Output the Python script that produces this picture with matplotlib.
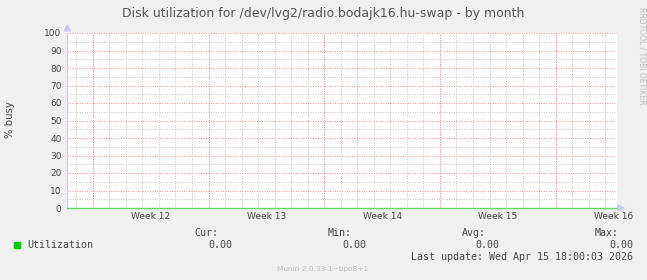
import matplotlib
matplotlib.use("Agg")
import matplotlib.pyplot as plt

# data (x in days from the left edge of the month view)
week_labels = ["Week 12", "Week 13", "Week 14", "Week 15", "Week 16"]
week_starts = [1.56, 8.56, 15.56, 22.56, 29.56]
util_days = [0.0, 33.27]
util_values = [0.0, 0.0]
y_ticks = [0, 10, 20, 30, 40, 50, 60, 70, 80, 90, 100]
legend_stats = [("Cur:", "0.00"), ("Min:", "0.00"), ("Avg:", "0.00"), ("Max:", "0.00")]
last_update = "Last update: Wed Apr 15 18:00:03 2026"

W, H = 647, 280
bg = "#f0f0f0"
fig = plt.figure(figsize=(W / 100, H / 100), dpi=100, facecolor=bg)

# plot area in pixels
x0, x1, y0, y1 = 67, 617, 33, 208
ax = fig.add_axes([x0 / W, 1 - y1 / H, (x1 - x0) / W, (y1 - y0) / H])
ax.set_facecolor("white")
ax.set_xlim(0, util_days[-1])
ax.set_ylim(0, 100)

# grid: minor every day / 5 %, major at week starts / 10 %
minor_x = [week_starts[0] - 1 + i for i in range(34) if week_starts[0] - 1 + i < util_days[-1]]
for d in minor_x:
    ax.axvline(d, color="#c4c4c4", lw=0.7, ls=(0, (1, 1.5)), zorder=1)
for v in range(5, 100, 10):
    ax.axhline(v, color="#c4c4c4", lw=0.7, ls=(0, (1, 1.5)), zorder=1)
for d in week_starts:
    ax.axvline(d, color="#f09090", lw=0.7, ls=(0, (1, 1.5)), zorder=2)
for v in y_ticks[1:]:
    ax.axhline(v, color="#f09090", lw=0.7, ls=(0, (1, 1.5)), zorder=2)

ax.plot(util_days, util_values, color="#00cc00", lw=1.0, alpha=0.6, zorder=3, clip_on=False)

for s in ["top", "right", "bottom"]:
    ax.spines[s].set_visible(False)
ax.spines["left"].set_color("#c8c8f0")
ax.spines["left"].set_linewidth(0.8)

ax.set_yticks(y_ticks)
ax.set_yticklabels([str(v) for v in y_ticks], fontsize=6.5, color="#444444")
ax.set_xticks([s + 3.5 for s in week_starts])
ax.set_xticklabels(week_labels, fontsize=6.5, color="#444444")
ax.tick_params(length=0, pad=3)
ax.tick_params(axis="y", pad=4)

# axis arrows
fig.patches.append(plt.Polygon([[x0 - 3 + 0.5, H - y0 + 2], [x0 + 3.5, H - y0 + 2], [x0 + 0.5, H - y0 + 8]],
                               closed=True, transform=None, color="#c8c8f0", figure=fig))
fig.patches.append(plt.Polygon([[x1 + 1, H - y1 - 3], [x1 + 1, H - y1 + 3], [x1 + 7, H - y1]],
                               closed=True, transform=None, color="#c8c8f0", figure=fig))

def px(x, y):
    return x / W, 1 - y / H

fig.text(*px(323, 13), "Disk utilization for /dev/lvg2/radio.bodajk16.hu-swap - by month",
         ha="center", va="center", fontsize=9.0, color="#555555")
fig.text(*px(10, 120), "% busy", rotation=90, ha="center", va="center", fontsize=7.3, color="#444444")
fig.text(*px(642, 56), "RRDTOOL / TOBI OETIKER", rotation=270, ha="center", va="center",
         fontsize=5.5, color="#bbbbbb")

# legend
fig.patches.append(plt.Rectangle((14, H - 248), 6, 6, transform=None, color="#00cc00", figure=fig))
mono = dict(family="DejaVu Sans Mono", fontsize=7.2, color="#444444")
fig.text(*px(27, 245), "Utilization", ha="left", va="center", **mono)
label_right = [218, 352, 486, 619]
value_right = [232, 366, 499, 633]
for (lab, val), lx, vx in zip(legend_stats, label_right, value_right):
    fig.text(*px(lx, 233), lab, ha="right", va="center", **mono)
    fig.text(*px(vx, 245), val, ha="right", va="center", **mono)
fig.text(*px(633, 257.5), last_update, ha="right", va="center", **mono)
fig.text(*px(323, 269), "Munin 2.0.33-1~bpo8+1", ha="center", va="center", fontsize=5.3, color="#bbbbbb")

fig.savefig("out.png", dpi=100, facecolor=bg)
